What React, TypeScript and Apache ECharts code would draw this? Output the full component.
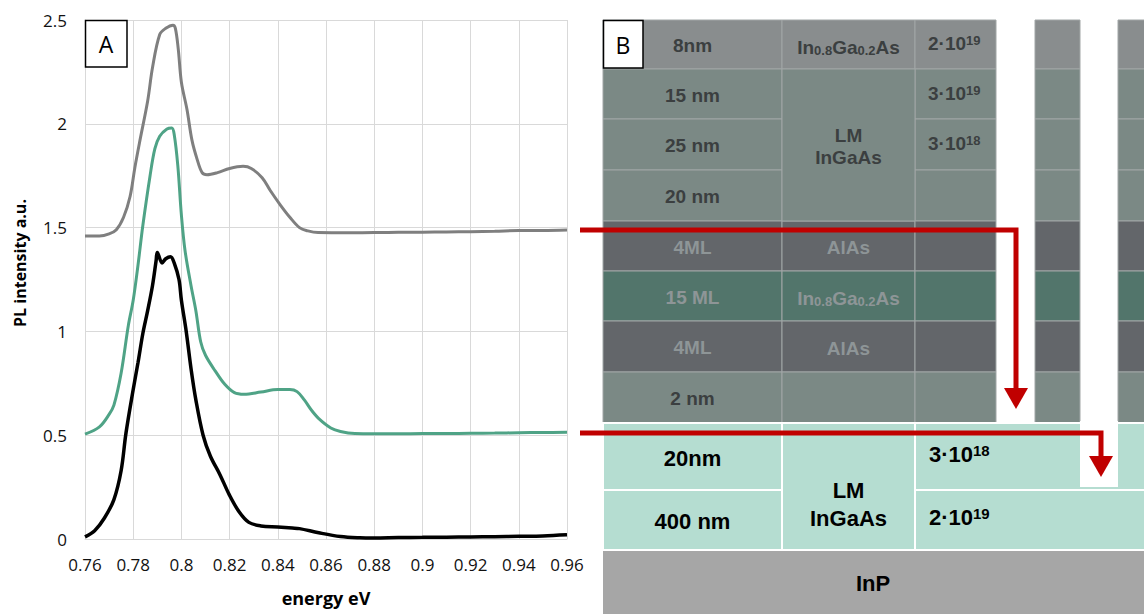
import React, { useEffect, useRef } from "react";
import * as echarts from "echarts";

// ---- Data ----
const energyTicks = [0.76, 0.78, 0.8, 0.82, 0.84, 0.86, 0.88, 0.9, 0.92, 0.94, 0.96];
const intensityTicks = [0, 0.5, 1, 1.5, 2, 2.5];

const grayCurve: [number, number][] = [
  [0.76, 1.46], [0.766, 1.46], [0.770, 1.47], [0.773, 1.49], [0.776, 1.55], [0.7787, 1.65],
  [0.7807, 1.79], [0.7828, 1.92], [0.786, 2.11], [0.788, 2.27], [0.791, 2.43], [0.7935, 2.46],
  [0.7965, 2.475], [0.7975, 2.46], [0.7987, 2.36], [0.800, 2.20], [0.8023, 2.07], [0.8044, 1.92],
  [0.8065, 1.83], [0.8086, 1.765], [0.8106, 1.755], [0.815, 1.765], [0.820, 1.785], [0.8256, 1.795],
  [0.829, 1.785], [0.8335, 1.74], [0.8368, 1.68], [0.841, 1.61], [0.845, 1.55], [0.849, 1.50],
  [0.8525, 1.484], [0.8567, 1.476], [0.87, 1.475], [0.88, 1.476], [0.89, 1.478], [0.9, 1.478],
  [0.91, 1.479], [0.92, 1.48], [0.93, 1.482], [0.94, 1.486], [0.95, 1.486], [0.96, 1.488],
];

const greenCurve: [number, number][] = [
  [0.76, 0.505], [0.766, 0.54], [0.770, 0.6], [0.772, 0.645], [0.775, 0.80], [0.778, 1.03],
  [0.780, 1.15], [0.782, 1.32], [0.784, 1.51], [0.787, 1.75], [0.789, 1.88], [0.791, 1.94],
  [0.794, 1.975], [0.796, 1.98], [0.797, 1.95], [0.7985, 1.80], [0.800, 1.56], [0.8015, 1.39],
  [0.804, 1.22], [0.806, 1.10], [0.808, 0.95], [0.810, 0.885], [0.814, 0.81], [0.818, 0.745],
  [0.822, 0.705], [0.826, 0.697], [0.833, 0.708], [0.840, 0.72], [0.845, 0.72], [0.848, 0.71],
  [0.851, 0.67], [0.854, 0.62], [0.857, 0.58], [0.862, 0.535], [0.866, 0.518], [0.872, 0.508],
  [0.88, 0.507], [0.89, 0.507], [0.9, 0.508], [0.91, 0.508], [0.92, 0.509], [0.93, 0.51],
  [0.94, 0.512], [0.95, 0.513], [0.96, 0.514],
];

const blackCurve: [number, number][] = [
  [0.76, 0.01], [0.764, 0.04], [0.768, 0.10], [0.772, 0.19], [0.775, 0.33], [0.777, 0.51],
  [0.780, 0.72], [0.782, 0.85], [0.784, 0.99], [0.786, 1.10], [0.788, 1.22],
  [0.7895, 1.34], [0.790, 1.38], [0.792, 1.33], [0.7935, 1.35], [0.7955, 1.36], [0.797, 1.33],
  [0.799, 1.25], [0.800, 1.15], [0.802, 1.00], [0.804, 0.82], [0.806, 0.67], [0.809, 0.50],
  [0.812, 0.40], [0.816, 0.31], [0.820, 0.21], [0.824, 0.13], [0.828, 0.08], [0.833, 0.063],
  [0.840, 0.058], [0.846, 0.053], [0.849, 0.05], [0.857, 0.03], [0.866, 0.012], [0.874, 0.006],
  [0.88, 0.005], [0.89, 0.007], [0.9, 0.008], [0.91, 0.009], [0.92, 0.01], [0.93, 0.011],
  [0.94, 0.013], [0.95, 0.015], [0.96, 0.02],
];

// Layer stack texts (panel B)
const thicknessLabels = ["8nm", "15 nm", "25 nm", "20 nm", "4ML", "15 ML", "4ML", "2 nm"];
const capDoping = ["2·10{sup|19}", "3·10{sup|19}", "3·10{sup|18}"];
const bufferLabels = ["20nm", "400 nm"];
const bufferDoping = ["3·10{sup|18}", "2·10{sup|19}"];
const substrateLabel = "InP";

const FONT = "'Open Sans', 'Noto Sans', sans-serif";
const TFONT = "'Liberation Sans', Arial, sans-serif";

const fmt = (v: number) => String(Number(v.toFixed(2)));

function txt(x: number, y: number, text: string, size: number, color: string, align = "center", rich?: any, weight = "bold", family = TFONT, lineHeight?: number): any {
  const style: any = {
    text,
    fontSize: size,
    fontWeight: weight,
    fontFamily: family,
    fill: color,
    align,
    verticalAlign: "middle",
    textAlign: align,
    textVerticalAlign: "middle",
  };
  if (rich) style.rich = rich;
  if (lineHeight) style.lineHeight = lineHeight;
  return { type: "text", x, y, z: 110, style };
}

function rect(x0: number, y0: number, x1: number, y1: number, fill: string, stroke?: string, lw = 1, z = 100): any {
  return {
    type: "rect",
    z,
    shape: { x: x0, y: y0, width: x1 - x0, height: y1 - y0 },
    style: { fill, stroke: stroke || "none", lineWidth: stroke ? lw : 0 },
  };
}

function supRich(color: string, size: number) {
  const s = Math.round(size * 0.68);
  return { sup: { fontSize: s, fontWeight: "bold", fontFamily: TFONT, fill: color, lineHeight: s, verticalAlign: "top" } };
}
function subRich(color: string, size: number) {
  const s = Math.round(size * 0.68);
  return { s: { fontSize: s, fontWeight: "bold", fontFamily: TFONT, fill: color, lineHeight: s, verticalAlign: "bottom" } };
}

function buildPanelB(): any[] {
  const els: any[] = [];
  const X0 = 603, C1 = 782, C2 = 915, C3 = 996, S1a = 1035, S1b = 1080, S2a = 1118, X1 = 1143;
  const rowsY = [20, 69, 119, 170, 221, 271, 321, 372, 423];
  const fills = ["#898d8e", "#7b8985", "#7b8985", "#7b8985", "#63666a", "#52756b", "#63666a", "#7b8985"];
  const line = "#a1a6a6";
  for (let i = 0; i < 8; i++) {
    const y0 = rowsY[i], y1 = rowsY[i + 1], f = fills[i];
    els.push(rect(X0, y0, C1, y1, f, line));
    if (!(i >= 1 && i <= 3)) els.push(rect(C1, y0, C2, y1, f, line));
    els.push(rect(C2, y0, C3, y1, f, line));
    els.push(rect(S1a, y0, S1b, y1, f, line));
    els.push(rect(S2a, y0, X1 + 2, y1, f, line));
  }
  els.push(rect(C1, 69, C2, 221, "#7b8985", line));

  const dark = "#3b3f40";
  const light = "#8e9597";
  const rowColors = [dark, dark, dark, dark, light, light, light, dark];
  const sz = 19;
  for (let i = 0; i < 8; i++) {
    const yc = (rowsY[i] + rowsY[i + 1]) / 2 + 1;
    els.push(txt((X0 + C1) / 2, yc, thicknessLabels[i], sz, rowColors[i]));
  }
  // material column
  els.push(txt((C1 + C2) / 2, 47, "In{s|0.8}Ga{s|0.2}As", sz, dark, "center", subRich(dark, sz)));
  els.push(txt((C1 + C2) / 2, 146, "LM\nInGaAs", sz, dark, "center", undefined, "bold", TFONT, 22));
  els.push(txt((C1 + C2) / 2, 247, "AlAs", sz, light));
  els.push(txt((C1 + C2) / 2, 298, "In{s|0.8}Ga{s|0.2}As", sz, light, "center", subRich(light, sz)));
  els.push(txt((C1 + C2) / 2, 348, "AlAs", sz, light));
  // doping column
  els.push(txt(928, 43, capDoping[0], sz, dark, "left", supRich(dark, sz)));
  els.push(txt(928, 93, capDoping[1], sz, dark, "left", supRich(dark, sz)));
  els.push(txt(928, 143, capDoping[2], sz, dark, "left", supRich(dark, sz)));

  // buffer (light teal)
  const teal = "#b5ddd1";
  els.push(rect(X0, 423, C1, 490, teal, "#ffffff", 2));
  els.push(rect(X0, 490, C1, 550, teal, "#ffffff", 2));
  els.push(rect(C1, 423, C2, 550, teal, "#ffffff", 2));
  els.push(rect(C2, 423, X1 + 3, 490, teal, "#ffffff", 2));
  els.push(rect(C2, 490, X1 + 3, 550, teal, "#ffffff", 2));
  els.push(rect(S1b, 421, S2a, 487, "#ffffff"));
  els.push(txt((X0 + C1) / 2, 458, bufferLabels[0], 22, "#000"));
  els.push(txt((X0 + C1) / 2, 521, bufferLabels[1], 22, "#000"));
  els.push(txt((C1 + C2) / 2, 504, "LM\nInGaAs", 22, "#000", "center", undefined, "bold", TFONT, 28));
  els.push(txt(929, 454, bufferDoping[0], 22, "#000", "left", supRich("#000", 22)));
  els.push(txt(929, 517, bufferDoping[1], 22, "#000", "left", supRich("#000", 22)));

  // substrate
  els.push(rect(X0, 551, X1 + 3, 616, "#a6a6a6"));
  els.push(txt((X0 + X1) / 2, 583, substrateLabel, 22, "#000"));

  // red arrows
  const red = "#c00000";
  els.push({ type: "polyline", z: 120, shape: { points: [[580, 230], [1016, 230], [1016, 392]] }, style: { stroke: red, lineWidth: 5, fill: "none", lineJoin: "miter" } });
  els.push({ type: "polygon", z: 121, shape: { points: [[1004, 388], [1028, 388], [1016, 409]] }, style: { fill: red } });
  els.push({ type: "polyline", z: 120, shape: { points: [[580, 433], [1101, 433], [1101, 460]] }, style: { stroke: red, lineWidth: 5, fill: "none", lineJoin: "miter" } });
  els.push({ type: "polygon", z: 121, shape: { points: [[1089, 456], [1113, 456], [1101, 477]] }, style: { fill: red } });

  // B label
  els.push(rect(603.5, 20.5, 643, 68, "#ffffff", "#000000", 1.5, 130));
  els.push({ ...txt(623, 45, "B", 23, "#000", "center", undefined, "normal", FONT), z: 131 });
  return els;
}

export default function App() {
  const ref = useRef<HTMLDivElement>(null);
  useEffect(() => {
    if (!ref.current) return;
    const chart = echarts.init(ref.current, undefined, { renderer: "svg" });
    const grid = "#d9d9d9";
    const option: any = {
      animation: false,
      backgroundColor: "#ffffff",
      grid: { left: 85, right: 577, top: 20, bottom: 75 },
      xAxis: {
        type: "value",
        min: energyTicks[0],
        max: energyTicks[energyTicks.length - 1],
        interval: 0.02,
        axisLine: { show: true, lineStyle: { color: grid, width: 1 } },
        axisTick: { show: false },
        splitLine: { show: true, lineStyle: { color: grid, width: 1 } },
        axisLabel: { formatter: (v: number) => fmt(v), fontSize: 17, color: "#111", fontFamily: FONT, margin: 17 },
        name: "energy eV",
        nameLocation: "middle",
        nameGap: 50,
        nameTextStyle: { fontSize: 18, fontWeight: "bold", color: "#000", fontFamily: FONT },
      },
      yAxis: {
        type: "value",
        min: intensityTicks[0],
        max: intensityTicks[intensityTicks.length - 1],
        interval: 0.5,
        axisLine: { show: true, lineStyle: { color: grid, width: 1 } },
        axisTick: { show: false },
        splitLine: { show: true, lineStyle: { color: grid, width: 1 } },
        axisLabel: { formatter: (v: number) => fmt(v), fontSize: 17, color: "#111", fontFamily: FONT, margin: 18 },
      },
      series: [
        { type: "line", data: grayCurve, symbol: "none", smooth: 0.35, lineStyle: { color: "#7f7f7f", width: 3 }, z: 3 },
        { type: "line", data: greenCurve, symbol: "none", smooth: 0.35, lineStyle: { color: "#4fa386", width: 3 }, z: 3 },
        { type: "line", data: blackCurve, symbol: "none", smooth: 0.35, lineStyle: { color: "#000000", width: 3.5 }, z: 3 },
      ],
      graphic: [
        rect(85.5, 20.5, 127, 67, "#ffffff", "#000000", 1.5, 130),
        { ...txt(106, 44, "A", 23, "#000", "center", undefined, "normal", FONT), z: 131 },
        { ...txt(20, 263, "PL intensity a.u.", 16, "#000", "center", undefined, "bold", FONT), rotation: Math.PI / 2 },
        ...buildPanelB(),
      ],
    };
    chart.setOption(option);
    return () => chart.dispose();
  }, []);
  return <div ref={ref} style={{ position: "fixed", left: 0, top: 0, width: 1144, height: 614 }} />;
}
